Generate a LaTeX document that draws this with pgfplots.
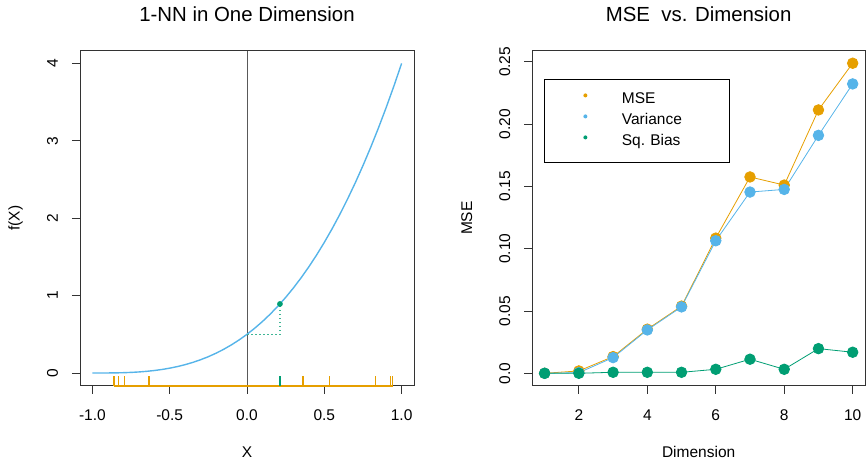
\documentclass[border=0pt]{standalone}
\usepackage{fontspec}
\setmainfont{Liberation Sans}
\usepackage{pgfplots}
\pgfplotsset{compat=1.18}
\definecolor{ro}{HTML}{E69F00}
\definecolor{sb}{HTML}{56B4E9}
\definecolor{bg}{HTML}{009E73}
\pgfplotsset{
  myaxis/.style={
    scale only axis, height=335bp, anchor=south west,
    axis line style={black!80, line width=0.8bp},
    tick style={black!80, line width=0.8bp},
    tick align=outside, major tick length=8bp,
    xtick pos=bottom, ytick pos=left,
    font=\fontsize{15.5bp}{18bp}\selectfont,
    title style={at={(axis description cs:0.5,1)}, anchor=base, yshift=23bp, font=\fontsize{20.4bp}{24bp}\selectfont},
    xlabel style={at={(axis description cs:0.5,0)}, anchor=base, yshift=-72bp},
    xticklabel style={anchor=base, yshift=-26.7bp},
    yticklabel style={rotate=90, anchor=base, yshift=14.2bp},
  }
}
\begin{document}
\begin{tikzpicture}
\useasboundingbox (0,0) rectangle (866bp,464bp);
% ---------------- left panel
\begin{axis}[myaxis, at={(80bp,78.3bp)}, width=334bp,
  xmin=-1.08, xmax=1.08, ymin=-0.164, ymax=4.164,
  xtick={-1,-0.5,0,0.5,1}, xticklabels={-1.0,-0.5,0.0,0.5,1.0},
  ytick={0,1,2,3,4}, yticklabels={0,1,2,3,4},
  title={1-NN in One Dimension}, xlabel={X}, ylabel={f(X)},
  ylabel style={at={(axis description cs:-0.181,0.5)}, anchor=base},
  clip=false]
\addplot[black!65, line width=1bp] coordinates {(0,-0.164) (0,4.164)};
\addplot[sb, line width=1.4bp] coordinates {
(-1,0) (-0.95,0.0000625) (-0.9,0.0005) (-0.85,0.0016875) (-0.8,0.004)
(-0.75,0.0078125) (-0.7,0.0135) (-0.65,0.0214375) (-0.6,0.032) (-0.55,0.0455625)
(-0.5,0.0625) (-0.45,0.0831875) (-0.4,0.108) (-0.35,0.1373125) (-0.3,0.1715)
(-0.25,0.2109375) (-0.2,0.256) (-0.15,0.3070625) (-0.1,0.3645) (-0.05,0.4286875)
(0,0.5) (0.05,0.5788125) (0.1,0.6655) (0.15,0.7604375) (0.2,0.864)
(0.25,0.9765625) (0.3,1.0985) (0.35,1.2301875) (0.4,1.372) (0.45,1.5243125)
(0.5,1.6875) (0.55,1.8619375) (0.6,2.048) (0.65,2.2460625) (0.7,2.4565)
(0.75,2.6796875) (0.8,2.916) (0.85,3.1658125) (0.9,3.4295) (0.95,3.7074375) (1,4)};
\addplot[bg!75!white, line width=1.3bp, dash pattern=on 1.6bp off 2.4bp] coordinates {(0,0.5) (0.213,0.5) (0.213,0.892)};
\addplot[bg, only marks, mark=*, mark size=2.6bp] coordinates {(0.213,0.892)};
% rug
\addplot[ro, line width=1.8bp] coordinates {(-0.860,-0.164) (0.942,-0.164)};
\addplot[ro, line width=1.3bp, empty line=jump] table[row sep=\\] {
x y\\
-0.860 -0.164\\ -0.860 -0.035\\ \\
-0.830 -0.164\\ -0.830 -0.035\\ \\
-0.793 -0.164\\ -0.793 -0.035\\ \\
-0.634 -0.164\\ -0.634 -0.035\\ \\
0.362 -0.164\\ 0.362 -0.035\\ \\
0.534 -0.164\\ 0.534 -0.035\\ \\
0.832 -0.164\\ 0.832 -0.035\\ \\
0.927 -0.164\\ 0.927 -0.035\\ \\
0.942 -0.164\\ 0.942 -0.035\\
};
\addplot[bg, line width=2.4bp] coordinates {(0.213,-0.164) (0.213,-0.035)};
\end{axis}
% ---------------- right panel
\begin{axis}[myaxis, at={(532.3bp,78.3bp)}, width=332.7bp,
  xmin=0.64, xmax=10.36, ymin=-0.00996, ymax=0.25896,
  xtick={2,4,6,8,10}, xticklabels={2,4,6,8,10},
  ytick={0,0.05,0.1,0.15,0.2,0.25}, yticklabels={0.0,0.05,0.10,0.15,0.20,0.25},
  title={MSE\ \ vs. Dimension}, xlabel={Dimension}, ylabel={MSE},
  ylabel style={at={(axis description cs:-0.181,0.5)}, anchor=base},
  legend image code/.code={\path[draw=none, fill=none] (-40.7bp,0bp) rectangle (36.5bp,1bp); \fill[#1, draw=none] (0bp,4.5bp) circle (2bp);},
  legend cell align=left,
  legend style={at={(axis description cs:0.036,0.9155)}, anchor=north west, draw=black, line width=0.8bp,
    inner xsep=0pt, inner ysep=10bp, row sep=0pt, column sep=0pt,
    nodes={inner sep=0pt, text height=14.3bp, text depth=6.7bp, text width=108bp, align=left,
      font=\fontsize{15.5bp}{18bp}\selectfont}},
  ]
\addplot[ro, line width=0.8bp, mark=*, mark size=5.3bp] coordinates {
(1,0) (2,0.0019) (3,0.0134) (4,0.0354) (5,0.0539) (6,0.1085) (7,0.1576) (8,0.1511) (9,0.2114) (10,0.2489)};
\addlegendentry{MSE}
\addplot[sb, line width=0.8bp, mark=*, mark size=5.3bp] coordinates {
(1,0) (2,0.0005) (3,0.0126) (4,0.0348) (5,0.0533) (6,0.1064) (7,0.1455) (8,0.1476) (9,0.1910) (10,0.2323)};
\addlegendentry{Variance}
\addplot[bg, line width=0.8bp, mark=*, mark size=5.3bp] coordinates {
(1,0) (2,0) (3,0.0008) (4,0.0008) (5,0.0008) (6,0.0032) (7,0.0113) (8,0.0032) (9,0.0198) (10,0.0169)};
\addlegendentry{Sq.\ Bias}
\end{axis}
\end{tikzpicture}
\end{document}
